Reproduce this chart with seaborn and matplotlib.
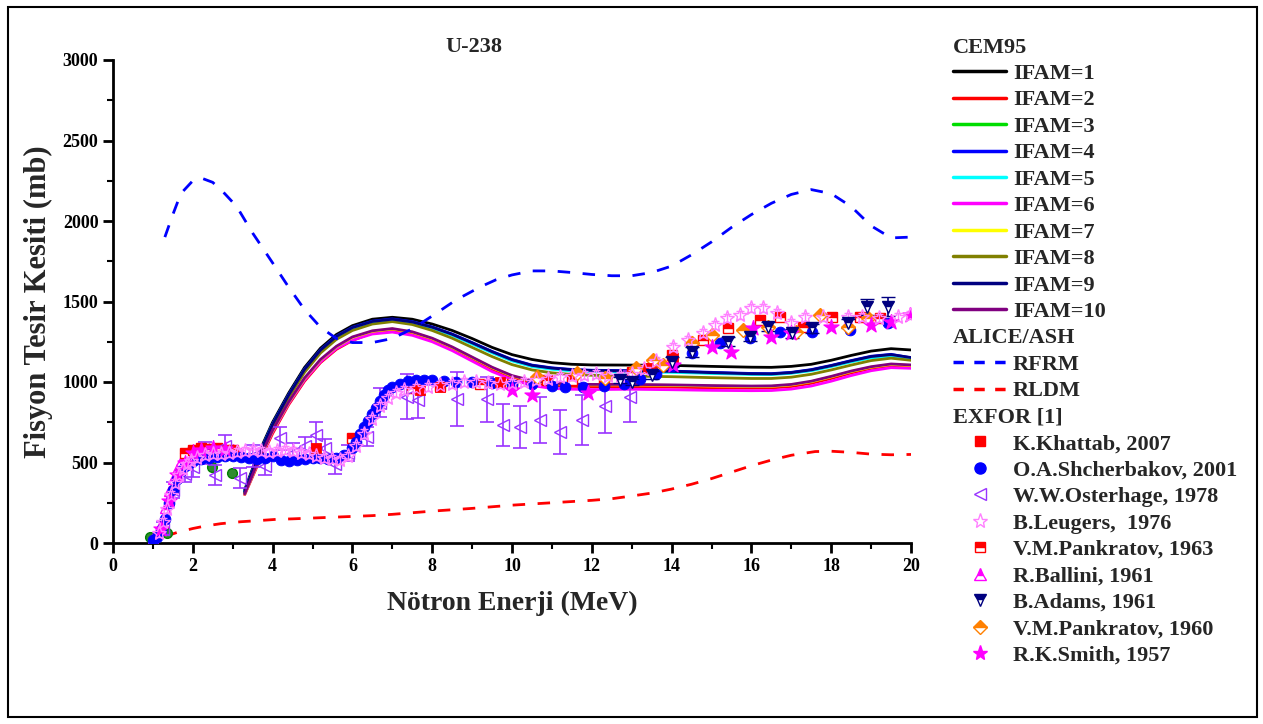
import numpy as np
import pandas as pd
import seaborn as sns
import matplotlib
matplotlib.use("Agg")
import matplotlib.pyplot as plt
from matplotlib.lines import Line2D
from matplotlib.patches import Rectangle
from matplotlib.font_manager import FontProperties

# ---------------- CEM95 model curves (IFAM = 1..10) ----------------
cem_energy = [3.3, 3.6, 4.0, 4.4, 4.8, 5.2, 5.6, 6.0, 6.5, 7.0, 7.5, 8.0, 8.5, 9.0, 9.5, 10.0,
              10.5, 11.0, 11.5, 12.0, 13.0, 14.0, 15.0, 16.0, 16.5, 17.0, 17.5, 18.0, 18.5,
              19.0, 19.5, 20.0]
ifam1 = [330, 530, 750, 930, 1090, 1210, 1295, 1350, 1390, 1402, 1390, 1360, 1320, 1270, 1215, 1170,
         1140, 1120, 1110, 1106, 1105, 1103, 1097, 1092, 1091, 1097, 1110, 1135, 1165, 1192, 1207, 1199]
ifam2 = [300, 470, 680, 858, 1005, 1120, 1203, 1258, 1305, 1320, 1300, 1260, 1205, 1142, 1078, 1025,
         993, 978, 973, 971, 970, 968, 964, 962, 963, 972, 992, 1022, 1056, 1084, 1101, 1097]
ifam3 = [318, 517, 737, 917, 1077, 1197, 1282, 1337, 1375, 1389, 1372, 1338, 1294, 1240, 1185, 1135,
         1100, 1083, 1073, 1068, 1066, 1064, 1056, 1050, 1049, 1057, 1073, 1099, 1128, 1154, 1164, 1148]
ifam4 = [320, 520, 740, 920, 1080, 1200, 1285, 1340, 1378, 1392, 1375, 1342, 1298, 1245, 1190, 1140,
         1105, 1088, 1078, 1073, 1070, 1068, 1060, 1053, 1052, 1060, 1077, 1103, 1133, 1160, 1172, 1150]
ifam5 = [316, 515, 735, 915, 1075, 1195, 1280, 1335, 1373, 1386, 1369, 1335, 1290, 1236, 1181, 1131,
         1096, 1079, 1069, 1064, 1062, 1060, 1053, 1047, 1046, 1054, 1070, 1096, 1125, 1150, 1160, 1145]
ifam6 = [302, 478, 690, 865, 1012, 1125, 1208, 1260, 1298, 1310, 1290, 1250, 1195, 1130, 1065, 1015,
         978, 960, 955, 953, 955, 952, 948, 946, 947, 956, 975, 1005, 1040, 1070, 1089, 1085]
ifam7 = [303, 482, 697, 872, 1022, 1137, 1219, 1277, 1315, 1329, 1309, 1269, 1215, 1152, 1089, 1037,
         1005, 990, 984, 982, 982, 979, 975, 972, 973, 982, 1002, 1032, 1065, 1092, 1109, 1103]
ifam8 = [310, 505, 722, 902, 1060, 1180, 1265, 1320, 1360, 1375, 1357, 1320, 1272, 1215, 1158, 1108,
         1075, 1057, 1047, 1042, 1037, 1033, 1027, 1022, 1022, 1030, 1048, 1075, 1105, 1133, 1148, 1135]
ifam9 = [318, 517, 737, 918, 1078, 1198, 1283, 1338, 1376, 1390, 1373, 1340, 1296, 1243, 1188, 1138,
         1103, 1086, 1076, 1071, 1068, 1066, 1058, 1051, 1050, 1058, 1075, 1101, 1131, 1158, 1170, 1152]
ifam10 = [305, 485, 700, 875, 1025, 1140, 1222, 1280, 1318, 1332, 1312, 1272, 1218, 1155, 1092, 1040,
          1008, 993, 987, 985, 985, 982, 978, 975, 976, 985, 1005, 1035, 1068, 1095, 1112, 1106]

ifam_labels = ["IFAM=1", "IFAM=2", "IFAM=3", "IFAM=4", "IFAM=5",
               "IFAM=6", "IFAM=7", "IFAM=8", "IFAM=9", "IFAM=10"]
ifam_values = [ifam1, ifam2, ifam3, ifam4, ifam5, ifam6, ifam7, ifam8, ifam9, ifam10]
ifam_colors = ["#000000", "#FF0000", "#00DD00", "#0000FF", "#00FFFF",
               "#FF00FF", "#FFFF00", "#808000", "#000080", "#800080"]

# ---------------- ALICE/ASH curves ----------------
rfrm_energy = [1.3, 1.5, 1.7, 2.0, 2.2, 2.5, 2.8, 3.1, 3.5, 4.0, 4.4, 4.8, 5.2, 5.6, 6.0, 6.5, 7.0,
               7.5, 8.0, 8.6, 9.2, 9.6, 10.0, 10.5, 11.0, 11.5, 12.0, 12.5, 13.0, 13.5, 14.0, 14.5,
               15.0, 15.5, 16.0, 16.5, 17.0, 17.5, 18.0, 18.5, 19.0, 19.5, 20.0]
rfrm = [1900, 2040, 2170, 2250, 2268, 2240, 2170, 2090, 1925, 1740, 1590, 1450, 1340, 1270, 1245,
        1245, 1270, 1330, 1410, 1510, 1590, 1635, 1665, 1690, 1690, 1680, 1668, 1660, 1660, 1680,
        1720, 1790, 1870, 1960, 2040, 2110, 2165, 2195, 2170, 2090, 1970, 1895, 1900]
rldm_energy = [1.3, 1.6, 2.0, 2.3, 2.7, 3.2, 3.7, 4.1, 4.5, 5.0, 5.5, 6.0, 6.5, 7.0, 7.6, 8.0, 9.0,
               10.0, 11.0, 12.0, 12.5, 13.0, 13.5, 14.0, 14.5, 15.0, 15.5, 16.0, 16.5, 17.0, 17.6,
               18.0, 18.5, 19.0, 19.5, 20.0]
rldm = [40, 65, 90, 105, 120, 132, 140, 147, 150, 155, 160, 165, 170, 178, 190, 198, 215, 235, 250,
        265, 275, 292, 310, 335, 365, 400, 440, 480, 515, 545, 568, 570, 563, 552, 548, 550]

# ---------------- EXFOR measurements ----------------
khattab_e = [5.1, 7.7, 8.2, 9.7, 13.4, 14.04]
khattab_s = [588, 950, 971, 1002, 1090, 1147]

shcherbakov_e = [1.0, 1.1, 1.2, 1.3, 1.4, 1.5, 1.6, 1.7, 1.8, 1.9, 2.0, 2.2, 2.4, 2.6, 2.8, 3.0, 3.2,
                 3.4, 3.6, 3.8, 4.0, 4.2, 4.4, 4.6, 4.8, 5.0, 5.2, 5.4, 5.6, 5.8, 6.0, 6.1, 6.2, 6.3,
                 6.4, 6.5, 6.6, 6.7, 6.8, 6.9, 7.0, 7.2, 7.4, 7.6, 7.8, 8.0, 8.3, 8.6, 9.0, 9.5,
                 10.0, 10.5, 11.0, 11.33, 11.78, 12.3, 12.8, 13.2, 13.6, 14.0, 14.5, 15.21, 15.96,
                 16.72, 17.51, 18.47, 19.43]
shcherbakov_s = [20, 40, 80, 150, 250, 330, 400, 450, 480, 500, 510, 520, 530, 535, 540, 540, 535,
                 530, 520, 525, 540, 518, 512, 518, 522, 528, 525, 520, 525, 545, 590, 630, 680, 720,
                 760, 800, 840, 880, 920, 950, 970, 990, 1005, 1010, 1010, 1010, 1005, 1000, 1000,
                 995, 990, 985, 975, 971, 971, 975, 990, 1020, 1050, 1100, 1178, 1240, 1271, 1312,
                 1312, 1323, 1364]

osterhage_e = [1.25, 1.5, 1.8, 2.0, 2.3, 2.56, 2.8, 3.18, 3.5, 3.8, 4.19, 4.5, 4.8, 5.1, 5.31, 5.56,
               5.9, 6.36, 6.7, 7.36, 7.65, 8.61, 9.37, 9.78, 10.2, 10.7, 11.2, 11.75, 12.33, 12.96]
osterhage_s = [90, 330, 430, 470, 560, 422, 600, 403, 540, 480, 650, 560, 600, 671, 588, 490, 560,
               660, 870, 909, 888, 894, 894, 733, 722, 764, 691, 764, 851, 909]
osterhage_err = [40, 50, 50, 60, 70, 60, 70, 60, 70, 60, 70, 60, 60, 80, 60, 60, 50, 60, 90, 140,
                 110, 170, 140, 130, 130, 140, 137, 155, 168, 158]

leugers_e = [1.15, 1.25, 1.35, 1.45, 1.55, 1.65, 1.75, 1.85, 1.95, 2.1, 2.3, 2.5, 2.7, 2.9, 3.1, 3.3,
             3.5, 3.7, 3.9, 4.1, 4.3, 4.5, 4.7, 4.9, 5.1, 5.3, 5.5, 5.7, 5.9, 6.1, 6.3, 6.5, 6.7, 6.9,
             7.1, 7.3, 7.6, 7.9, 8.2, 8.5, 8.8, 9.1, 9.4, 9.7, 10.0, 10.3, 10.6, 10.9, 11.2, 11.5,
             11.8, 12.1, 12.4, 12.7, 13.0, 13.3, 13.6, 14.04, 14.4, 14.79, 15.09, 15.38, 15.71, 16.0,
             16.3, 16.63, 17.0, 17.34, 17.8, 18.43, 18.76, 19.2, 19.68, 19.97]
leugers_s = [60, 130, 210, 300, 370, 420, 460, 490, 510, 530, 545, 550, 555, 560, 565, 570, 575, 570,
             565, 570, 575, 570, 560, 550, 540, 530, 520, 515, 540, 600, 680, 770, 850, 900, 930, 950,
             960, 970, 980, 990, 1000, 1000, 995, 990, 995, 1000, 1010, 1020, 1030, 1040, 1045, 1050,
             1040, 1040, 1050, 1080, 1130, 1219, 1260, 1302, 1354, 1396, 1416, 1458, 1458, 1427, 1365,
             1406, 1406, 1406, 1406, 1400, 1406, 1416]

pankratov63_e = [1.8, 2.0, 2.2, 2.4, 2.6, 2.8, 3.0, 6.0, 7.5, 8.2, 9.2, 10.0, 10.87, 11.5, 12.3, 13.0,
                 13.5, 14.0, 14.79, 15.42, 16.22, 16.72, 17.3, 18.01, 18.72, 19.22]
pankratov63_s = [560, 580, 590, 585, 590, 580, 575, 650, 960, 975, 990, 990, 1012, 1010, 1000, 1060,
                 1090, 1168, 1261, 1333, 1385, 1406, 1344, 1406, 1406, 1396]

ballini_e = [1.0, 1.1, 1.2, 1.3, 1.4, 1.5, 1.6, 1.7, 1.8, 1.9, 2.0, 2.1, 2.2, 2.3, 2.4, 2.5, 2.6,
             2.7, 2.8, 2.9, 3.0, 3.1, 3.2]
ballini_s = [30, 60, 120, 220, 320, 400, 460, 510, 550, 575, 585, 590, 590, 592, 590, 588, 590, 585,
             590, 580, 582, 575, 560]

adams_e = [12.71, 13.0, 13.5, 14.0, 14.5, 15.42, 15.96, 16.42, 17.01, 17.51, 18.43, 18.89, 19.43]
adams_s = [1012, 1000, 1043, 1126, 1188, 1251, 1282, 1344, 1302, 1333, 1364, 1468, 1468]
adams_err = [20, 20, 25, 30, 30, 30, 30, 30, 30, 30, 30, 50, 60]

pankratov60_e = [10.62, 11.62, 12.33, 13.12, 13.54, 13.79, 14.5, 15.0, 15.8, 16.42, 17.13, 17.72,
                 18.43, 18.93]
pankratov60_s = [1033, 1054, 1023, 1085, 1137, 1106, 1240, 1292, 1323, 1344, 1312, 1416, 1344, 1396]

smith_e = [1.2, 1.4, 1.6, 1.8, 2.0, 2.2, 2.5, 2.8, 10.0, 10.49, 11.91, 14.04, 15.0, 15.5, 16.05,
           16.5, 17.0, 18.0, 19.0, 19.5, 19.97]
smith_s = [90, 260, 420, 500, 560, 580, 590, 585, 950, 919, 930, 1106, 1219, 1188, 1333, 1282, 1302,
           1344, 1354, 1375, 1416]

extra_e = [0.93, 1.35, 1.51, 2.01, 2.47, 2.97]
extra_s = [35, 60, 329, 526, 474, 433]

# ---------------- style ----------------
sns.set_theme(style="ticks")
plt.rcParams["font.family"] = ["Liberation Serif", "DejaVu Serif"]
plt.rcParams["font.weight"] = "bold"
plt.rcParams["axes.labelweight"] = "bold"

fig = plt.figure(figsize=(12.63, 7.24), dpi=100)
ax = fig.add_axes([113 / 1263, 181 / 724, 798 / 1263, 483 / 724])

# model curves
for vals, col in zip(ifam_values, ifam_colors):
    df = pd.DataFrame({"E": cem_energy, "sigma": vals})
    sns.lineplot(data=df, x="E", y="sigma", color=col, lw=2.0, ax=ax, legend=False,
                 zorder=3, sort=True, estimator=None)

sns.lineplot(x=rfrm_energy, y=rfrm, color="#0000FF", lw=2.0, ax=ax, legend=False,
             linestyle=(0, (4.5, 4.5)), estimator=None, zorder=3)
sns.lineplot(x=rldm_energy, y=rldm, color="#FF0000", lw=2.0, ax=ax, legend=False,
             linestyle=(0, (4.5, 4.5)), estimator=None, zorder=3)

# measurements
ms = 7
ax.plot(extra_e, extra_s, ls="none", marker="o", ms=ms, mfc="#2E8B2E", mec="#008000", zorder=4)
ax.errorbar(osterhage_e, osterhage_s, yerr=osterhage_err, fmt="<", ms=9, mfc="none",
            mec="#9933FF", ecolor="#9933FF", elinewidth=1.2, capsize=5, capthick=1.2, zorder=4)
ax.plot(ballini_e, ballini_s, ls="none", marker="^", ms=ms, mfc="#FF00FF", mfcalt="white",
        fillstyle="top", mec="#FF00FF", zorder=4)
ax.plot(pankratov63_e, pankratov63_s, ls="none", marker="s", ms=ms, mfc="#FF0000", mfcalt="white",
        fillstyle="top", mec="#FF0000", zorder=4)
sns.scatterplot(x=shcherbakov_e, y=shcherbakov_s, marker="o", s=60, color="#0000FF",
                edgecolor="#0000FF", ax=ax, legend=False, zorder=5)
ax.errorbar(leugers_e, leugers_s, yerr=25, fmt="*", ms=11, mfc="none", mec="#FF80FF",
            ecolor="#FF80FF", elinewidth=1.0, capsize=3, zorder=5)
ax.errorbar(adams_e, adams_s, yerr=adams_err, fmt="v", ms=ms + 1, mfc="#000080", mfcalt="white",
            fillstyle="top", mec="#000080", ecolor="#000080", elinewidth=1.2, capsize=5, zorder=5)
ax.plot(pankratov60_e, pankratov60_s, ls="none", marker="D", ms=ms, mfc="#FF8000", mfcalt="white",
        fillstyle="top", mec="#FF8000", zorder=5)
sns.scatterplot(x=khattab_e, y=khattab_s, marker="s", s=55, color="#FF0000",
                edgecolor="#FF0000", ax=ax, legend=False, zorder=5)
sns.scatterplot(x=smith_e, y=smith_s, marker="*", s=130, color="#FF00FF",
                edgecolor="#FF00FF", ax=ax, legend=False, zorder=5)

# axes
ax.set_xlim(0, 20)
ax.set_ylim(0, 3000)
ax.set_xticks(np.arange(0, 21, 2))
ax.set_xticks(np.arange(0, 21, 1), minor=True)
ax.set_yticks(np.arange(0, 3001, 500))
ax.set_yticks(np.arange(0, 3001, 250), minor=True)
for s in ("top", "right"):
    ax.spines[s].set_visible(False)
for s in ("left", "bottom"):
    ax.spines[s].set_linewidth(2.0)
    ax.spines[s].set_color("black")
ax.tick_params(which="major", direction="out", length=7, width=2, labelsize=13, colors="black")
ax.tick_params(which="minor", direction="out", length=4, width=1.5, colors="black")
for lab in ax.get_xticklabels() + ax.get_yticklabels():
    lab.set_fontweight("bold")
ax.set_xlabel("Nötron Enerji (MeV)", fontsize=20, fontweight="bold", labelpad=12)
ax.set_ylabel("Fisyon Tesir Kesiti (mb)", fontsize=22, fontweight="bold", labelpad=7)
ax.set_facecolor("white")
ax.grid(False)

fig.text(474 / 1263, 1 - 47 / 724, "U-238", ha="center", va="center",
         fontsize=16, fontweight="bold")

# legend
blank = Line2D([], [], ls="none")
line_handles = [Line2D([], [], color=c, lw=2.5) for c in ifam_colors]
rfrm_h = Line2D([], [], color="#0000FF", lw=2.5, ls=(0, (3, 3)))
rldm_h = Line2D([], [], color="#FF0000", lw=2.5, ls=(0, (3, 3)))
exp_handles = [
    Line2D([], [], ls="none", marker="s", ms=7, mfc="#FF0000", mec="#FF0000"),
    Line2D([], [], ls="none", marker="o", ms=8, mfc="#0000FF", mec="#0000FF"),
    Line2D([], [], ls="none", marker="<", ms=9, mfc="none", mec="#9933FF"),
    Line2D([], [], ls="none", marker="*", ms=11, mfc="none", mec="#FF80FF"),
    Line2D([], [], ls="none", marker="s", ms=7, mfc="#FF0000", mfcalt="white", fillstyle="top",
           mec="#FF0000"),
    Line2D([], [], ls="none", marker="^", ms=8, mfc="#FF00FF", mfcalt="white", fillstyle="top",
           mec="#FF00FF"),
    Line2D([], [], ls="none", marker="v", ms=8, mfc="#000080", mfcalt="white", fillstyle="top",
           mec="#000080"),
    Line2D([], [], ls="none", marker="D", ms=7, mfc="#FF8000", mfcalt="white", fillstyle="top",
           mec="#FF8000"),
    Line2D([], [], ls="none", marker="*", ms=11, mfc="#FF00FF", mec="#FF00FF"),
]
exp_labels = ["K.Khattab, 2007", "O.A.Shcherbakov, 2001", "W.W.Osterhage, 1978",
              "B.Leugers,  1976", "V.M.Pankratov, 1963", "R.Ballini, 1961", "B.Adams, 1961",
              "V.M.Pankratov, 1960", "R.K.Smith, 1957"]
headers = ["CEM95", "ALICE/ASH", "EXFOR [1]"]
handles = [blank] + line_handles + [blank, rfrm_h, rldm_h, blank] + exp_handles
labels = ["CEM95"] + ifam_labels + ["ALICE/ASH", "RFRM", "RLDM", "EXFOR [1]"] + exp_labels

leg = ax.legend(handles, labels, loc="upper left", bbox_to_anchor=(953 / 1263, 1 - 37 / 724),
                bbox_transform=fig.transFigure, frameon=False,
                prop=FontProperties(family="Liberation Serif", weight="bold", size=16),
                handlelength=2.4, handletextpad=0.3, labelspacing=0.265,
                borderaxespad=0, borderpad=0)
for col in leg._legend_handle_box.get_children():
    for row in col.get_children():
        da, ta = row.get_children()
        if ta.get_text() in headers:
            da.set_width(0)
            row.sep = 0

# outer frame
fig.patches.append(Rectangle((8 / 1263, 7 / 724), 1249 / 1263, 710 / 724,
                             transform=fig.transFigure, fill=False, ec="black", lw=1.5))

fig.savefig("out.png", dpi=100, facecolor="white")
